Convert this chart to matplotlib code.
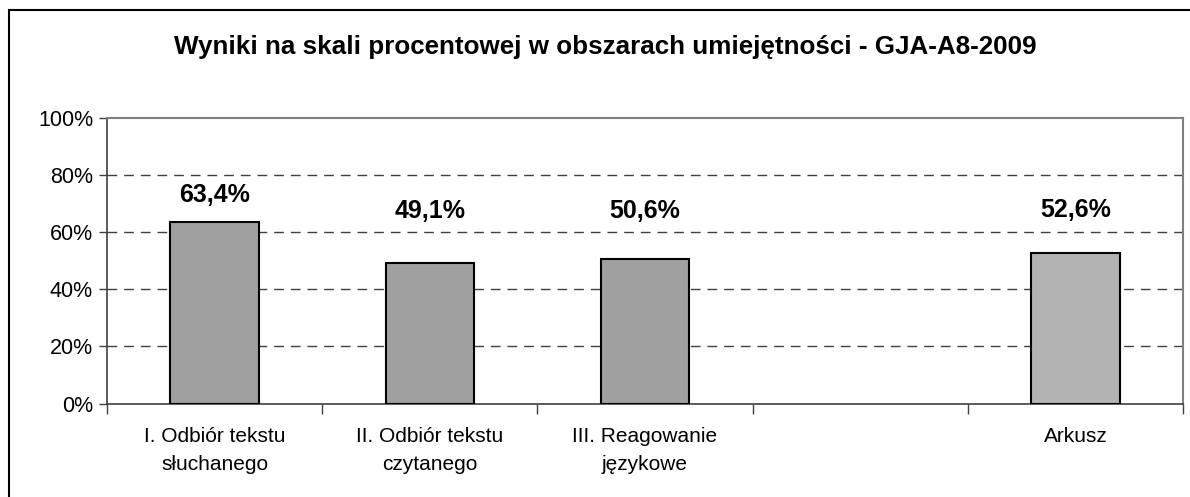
import matplotlib
matplotlib.use("Agg")
import matplotlib.pyplot as plt
import matplotlib.patches as mpatches
import numpy as np

plt.rcParams['font.family'] = ['Liberation Sans', 'DejaVu Sans']

title = "Wyniki na skali procentowej w obszarach umiejętności - GJA-A8-2009"
categories = ["I. Odbiór tekstu\nsłuchanego", "II. Odbiór tekstu\nczytanego",
              "III. Reagowanie\njęzykowe", "", "Arkusz"]
values = [63.4, 49.1, 50.6, np.nan, 52.6]
yticks = [0, 20, 40, 60, 80, 100]
ytick_labels = ["0%", "20%", "40%", "60%", "80%", "100%"]

bar_colors = ["#A0A0A0", "#A0A0A0", "#A0A0A0", "#A0A0A0", "#B3B3B3"]
label_offsets_px = [20, 45, 41, 0, 36]

W, H = 1190, 497
fig = plt.figure(figsize=(W / 100, H / 100), dpi=100)
ax = fig.add_axes([107 / W, (H - 403.5) / H, (1183 - 107) / W, (403.5 - 118) / H])

x = np.arange(len(categories)) + 0.5
for xi, v, c, off in zip(x, values, bar_colors, label_offsets_px):
    if np.isnan(v):
        continue
    ax.bar(xi, v, width=0.41, color=c, edgecolor="black", linewidth=1.5, zorder=3)
    ax.annotate(f"{v:.1f}%".replace(".", ","), (xi, v),
                xytext=(0, off * 0.72), textcoords="offset points",
                ha="center", va="baseline", fontsize=18, fontweight="bold", zorder=4)

ax.set_xlim(0, len(categories))
ax.set_ylim(0, 100)
ax.set_yticks(yticks)
ax.set_yticklabels(ytick_labels, fontsize=15.5)
ax.set_xticks(np.arange(len(categories) + 1))
ax.set_xticklabels([])
ax.set_xticks(x, minor=True)
ax.set_xticklabels(categories, minor=True, fontsize=15, linespacing=1.6)
ax.tick_params(axis="x", which="minor", length=0, pad=17)
ax.tick_params(axis="x", which="major", length=7, width=1, color="#404040", direction="out")
ax.tick_params(axis="y", length=6, width=1, color="#404040", direction="out", pad=4)

for yv in yticks[1:-1]:
    ax.axhline(yv, color="#404040", linewidth=1, linestyle=(0, (7, 5)), zorder=1)

for s in ["left", "bottom"]:
    ax.spines[s].set_color("#404040")
    ax.spines[s].set_linewidth(1.2)
for s in ["top", "right"]:
    ax.spines[s].set_color("#808080")
    ax.spines[s].set_linewidth(1.5)

fig.text(605 / W, 1 - 47 / H, title, ha="center", va="center",
         fontsize=18.7, fontweight="bold")

fig.patches.append(mpatches.Rectangle((9 / W, -0.1), 1.2, 1.1 - 10 / H,
                                      transform=fig.transFigure, fill=False,
                                      edgecolor="black", linewidth=1.5))

fig.savefig("out.png", dpi=100)
